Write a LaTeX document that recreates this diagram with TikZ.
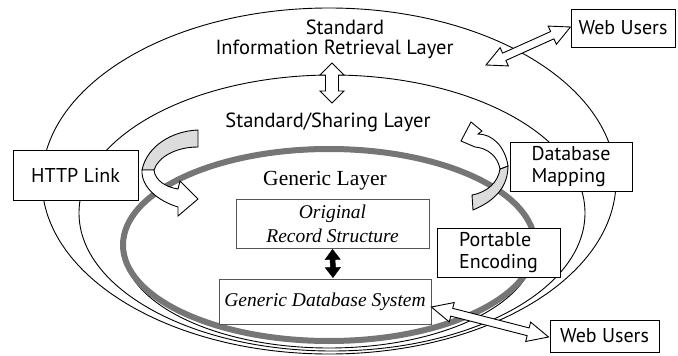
\documentclass[tikz,border=0pt]{standalone}
\usepackage{fontspec}
\setmainfont{Liberation Serif}
\newfontfamily\labelsans{PT Sans}
\usetikzlibrary{calc}

\definecolor{ringgray}{HTML}{767676}
\definecolor{ribbongray}{HTML}{DCDCDC}
\definecolor{boxgray}{HTML}{555555}

\tikzset{
  layerline/.style={draw=black, line width=0.9pt},
  genericring/.style={draw=ringgray, line width=6pt},
  sansbox/.style={draw=black, line width=1pt, fill=white, inner sep=0pt,
    font=\labelsans\fontsize{20}{22}\selectfont},
  serifbox/.style={draw=boxgray, line width=0.8pt, fill=white, inner sep=0pt,
    font=\itshape\fontsize{19.5}{24}\selectfont, align=center},
  layertext/.style={font=\labelsans\fontsize{20.5}{22}\selectfont, align=center},
  openarrow/.style={draw=black, line width=0.9pt, fill=white, line join=miter},
  solidarrow/.style={draw=black, fill=black, line width=0.5pt},
  ribbonback/.style={draw=black, line width=0.9pt, fill=ribbongray},
  ribbonfront/.style={draw=black, line width=0.9pt, fill=white},
}

% block double arrow: style, tip A, tip B, shaft half width, head half width, head length
\newcommand\blockarrow[6]{%
  \coordinate (ba-a) at ($(#2)!#6!(#3)$);
  \coordinate (ba-b) at ($(#3)!#6!(#2)$);
  \draw[#1] (#2) -- ($(ba-a)!#5!90:(#3)$) -- ($(ba-a)!#4!90:(#3)$)
    -- ($(ba-b)!#4!-90:(#2)$) -- ($(ba-b)!#5!-90:(#2)$) -- (#3)
    -- ($(ba-b)!#5!90:(#2)$) -- ($(ba-b)!#4!90:(#2)$)
    -- ($(ba-a)!#4!-90:(#3)$) -- ($(ba-a)!#5!-90:(#3)$) -- cycle;}

\begin{document}
\begin{tikzpicture}[x=1pt,y=-1pt]
\useasboundingbox (0,0) rectangle (678,356);

% layer rings
\draw[layerline] (329,181) ellipse [x radius=287pt, y radius=173pt];
\draw[layerline] (332,213) ellipse [x radius=253pt, y radius=138pt];
\draw[layerline] (329,247.5) ellipse [x radius=206pt, y radius=100.5pt];
\draw[genericring] (329,245) ellipse [x radius=206pt, y radius=96pt];

% layer titles
\node[layertext] (std) at (345,27) {Standard};
\node[layertext] (irl) at (334.5,49) {Information Retrieval Layer};
\node[layertext] (ssl) at (328,122) {Standard/Sharing Layer};
\node[font=\fontsize{21.5}{24}\selectfont] (gl) at (325,181) {Generic Layer};

% boxes
\node[sansbox, minimum width=104pt, minimum height=38pt] (webtop) at (623,28) {Web Users};
\node[sansbox, minimum width=125pt, minimum height=50pt] (http) at (75.5,175) {HTTP Link};
\node[sansbox, minimum width=122pt, minimum height=49pt, align=left] (dbmap) at (571,166.5) {Database\\Mapping};
\node[sansbox, minimum width=123pt, minimum height=49pt, align=left] (portable) at (498.5,252.5) {Portable\\Encoding};
\node[sansbox, minimum width=109pt, minimum height=32pt] (webbot) at (604.5,336) {Web Users};
\node[serifbox, minimum width=193pt, minimum height=49pt] (orig) at (332.5,223.5) {Original\\Record Structure};
\node[serifbox, minimum width=212pt, minimum height=45pt] (dbsys) at (325,301.5) {Generic Database System};

% straight double arrows
\coordinate (irl-s) at (332,63);
\coordinate (ssl-n) at (332,103);
\blockarrow{openarrow}{irl-s}{ssl-n}{6.5pt}{12pt}{12pt}

\coordinate (webtop-in) at (486,65);
\coordinate (webtop-w) at ($(webtop.west)+(0,-1)$);
\blockarrow{openarrow}{webtop-in}{webtop-w}{4pt}{10pt}{20pt}

\coordinate (dbsys-e) at ($(dbsys.east)+(0,5.5)$);
\coordinate (webbot-w) at ($(webbot.west)+(-1,1)$);
\blockarrow{openarrow}{dbsys-e}{webbot-w}{4pt}{10pt}{21pt}

\coordinate (orig-s) at ($(orig.south)+(0,1)$);
\coordinate (dbsys-n) at ($(dbsys.north)+(8,-1)$);
\blockarrow{solidarrow}{orig-s}{dbsys-n}{2.5pt}{7.5pt}{10pt}

% curled ribbon from HTTP Link
\draw[ribbonback] (198,130) .. controls (172,131) and (147,146) .. (142,170)
  -- (154,170) .. controls (158,157) and (176,147) .. (198,147) -- cycle;
\draw[ribbonfront] (142,170) .. controls (141,187) and (158,201) .. (178,207)
  -- (178,216) -- (198,199) -- (180,181) -- (178,189)
  .. controls (165,187) and (155,180) .. (154,170) -- cycle;

% curled ribbon from Database Mapping
\draw[ribbonback] (473,210) .. controls (497,200) and (508,185) .. (508,166)
  -- (500,169) .. controls (498,182) and (488,192) .. (472,195) -- cycle;
\draw[ribbonfront] (471,122) -- (482,131) -- (478,134)
  .. controls (492,134) and (505,146) .. (508,166)
  -- (500,169) .. controls (498,157) and (488,148) .. (475,147)
  -- (461,141) -- cycle;
\end{tikzpicture}
\end{document}
